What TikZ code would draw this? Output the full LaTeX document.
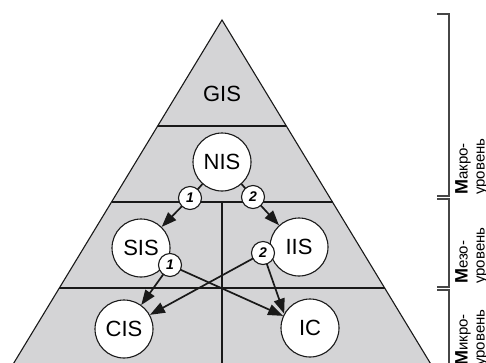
\documentclass[tikz,border=0pt]{standalone}
\usepackage{fontspec}
\setmainfont{Liberation Sans}
\usetikzlibrary{arrows.meta}
\definecolor{trifill}{RGB}{212,212,214}
\definecolor{brkcol}{RGB}{70,70,70}
\begin{document}
\begin{tikzpicture}[x=1pt,y=-1pt,
  tri/.style={draw=black!90, line width=1.1pt},
  big/.style={circle, draw=black!90, fill=white, line width=1.1pt, minimum size=58pt, inner sep=0pt, font=\fontsize{22}{22}\selectfont},
  small/.style={circle, draw=black!90, fill=white, line width=1.1pt, minimum size=23pt, inner sep=0pt, font=\fontsize{14}{14}\selectfont\bfseries\itshape},
  edge/.style={draw=black!90, line width=1.7pt},
  arr/.style={edge, -{Triangle[length=15pt,width=11pt]}},
  brk/.style={draw=brkcol, line width=1.4pt},
  lvl/.style={rotate=90, anchor=north west, align=left, inner sep=0pt, font=\fontsize{15}{17}\selectfont}
]
\useasboundingbox (0,0) rectangle (486,362);
\clip (0,0) rectangle (486,362);
% pyramid
\coordinate (A) at (222,20);
\coordinate (BL) at (3.5,380);
\coordinate (BR) at (440.5,380);
\fill[trifill] (A) -- (BL) -- (BR) -- cycle;
\draw[tri] (157.7,126) -- (286.3,126);
\draw[tri] (111.5,202) -- (332.5,202);
\draw[tri] (59.3,288) -- (384.7,288);
\draw[tri] (222,202) -- (222,380);
\draw[tri] (A) -- (BL) -- (BR) -- cycle;
% nodes
\node[font=\fontsize{22}{22}\selectfont] (GIS) at (222,94) {GIS};
\node[big] (NIS) at (222,162) {NIS};
\node[big] (SIS) at (141,248) {SIS};
\node[big] (IIS) at (299,247) {IIS};
\node[big] (CIS) at (124,329) {CIS};
\node[big] (IC) at (310,328) {IC};
\coordinate (n1c) at (190,198);
\coordinate (n2c) at (253,197);
\coordinate (s1c) at (170,265);
\coordinate (i2c) at (263,253);
% edges
\draw[edge] (NIS) -- (n1c);
\draw[arr] (n1c) -- (SIS);
\draw[edge] (NIS) -- (n2c);
\draw[arr] (n2c) -- (IIS);
\draw[arr] (s1c) -- (CIS);
\draw[arr] (s1c) -- (IC);
\draw[arr] (i2c) -- (CIS);
\draw[arr] (i2c) -- (IC.151);
% small labels
\node[small] (n1) at (n1c) {1};
\node[small] (n2) at (n2c) {2};
\node[small] (s1) at (s1c) {1};
\node[small] (i2) at (i2c) {2};
% brackets
\draw[brk] (437,14) -- (449,14) -- (449,196) -- (437,196);
\draw[brk] (437,199) -- (449,199) -- (449,287) -- (437,287);
\draw[brk] (437,290) -- (449,290) -- (449,380);
% level labels
\node[lvl] (lmacro) at (455,195) {{\fontsize{18}{17}\selectfont\bfseries М}акро-\\уровень};
\node[lvl] (lmeso) at (455,284) {{\fontsize{18}{17}\selectfont\bfseries М}езо-\\уровень};
\node[lvl] (lmicro) at (455,366) {{\fontsize{18}{17}\selectfont\bfseries М}икро-\\уровень};
\end{tikzpicture}
\end{document}
